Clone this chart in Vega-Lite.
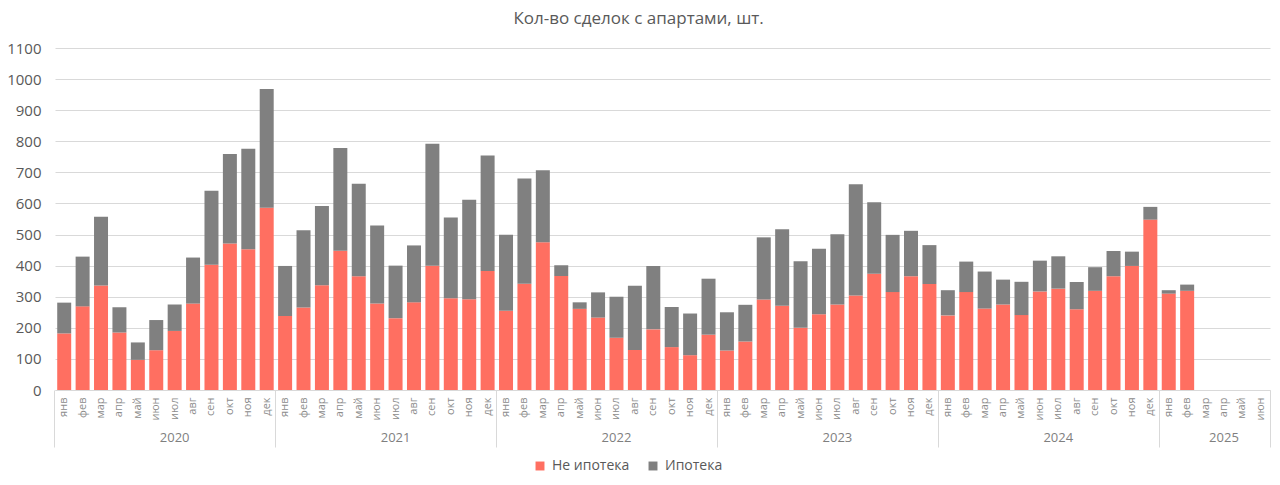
{
  "$schema": "https://vega.github.io/schema/vega-lite/v6.json",
  "width": 1215,
  "height": 342,
  "autosize": {"type": "none"},
  "padding": {"left": 55, "top": 48, "right": 10, "bottom": 95},
  "background": "white",
  "title": {
    "text": "Кол-во сделок с апартами, шт.",
    "anchor": "middle",
    "frame": "bounds",
    "font": "Open Sans",
    "fontSize": 17,
    "fontWeight": "normal",
    "color": "#595959",
    "offset": 13
  },
  "data": {
    "values": [
      {"key": "2020-01", "ni": 182, "ip": 99},
      {"key": "2020-02", "ni": 269, "ip": 160},
      {"key": "2020-03", "ni": 336, "ip": 221},
      {"key": "2020-04", "ni": 185, "ip": 81},
      {"key": "2020-05", "ni": 97, "ip": 56},
      {"key": "2020-06", "ni": 128, "ip": 97},
      {"key": "2020-07", "ni": 190, "ip": 85},
      {"key": "2020-08", "ni": 278, "ip": 148},
      {"key": "2020-09", "ni": 403, "ip": 238},
      {"key": "2020-10", "ni": 471, "ip": 288},
      {"key": "2020-11", "ni": 453, "ip": 323},
      {"key": "2020-12", "ni": 586, "ip": 382},
      {"key": "2021-01", "ni": 238, "ip": 161},
      {"key": "2021-02", "ni": 265, "ip": 249},
      {"key": "2021-03", "ni": 337, "ip": 255},
      {"key": "2021-04", "ni": 448, "ip": 330},
      {"key": "2021-05", "ni": 366, "ip": 297},
      {"key": "2021-06", "ni": 278, "ip": 251},
      {"key": "2021-07", "ni": 231, "ip": 169},
      {"key": "2021-08", "ni": 282, "ip": 183},
      {"key": "2021-09", "ni": 400, "ip": 392},
      {"key": "2021-10", "ni": 295, "ip": 260},
      {"key": "2021-11", "ni": 292, "ip": 320},
      {"key": "2021-12", "ni": 383, "ip": 371},
      {"key": "2022-01", "ni": 255, "ip": 244},
      {"key": "2022-02", "ni": 342, "ip": 338},
      {"key": "2022-03", "ni": 475, "ip": 232},
      {"key": "2022-04", "ni": 367, "ip": 34},
      {"key": "2022-05", "ni": 261, "ip": 21},
      {"key": "2022-06", "ni": 233, "ip": 81},
      {"key": "2022-07", "ni": 168, "ip": 132},
      {"key": "2022-08", "ni": 129, "ip": 206},
      {"key": "2022-09", "ni": 195, "ip": 204},
      {"key": "2022-10", "ni": 138, "ip": 129},
      {"key": "2022-11", "ni": 112, "ip": 134},
      {"key": "2022-12", "ni": 178, "ip": 180},
      {"key": "2023-01", "ni": 127, "ip": 123},
      {"key": "2023-02", "ni": 156, "ip": 118},
      {"key": "2023-03", "ni": 291, "ip": 200},
      {"key": "2023-04", "ni": 271, "ip": 246},
      {"key": "2023-05", "ni": 200, "ip": 214},
      {"key": "2023-06", "ni": 244, "ip": 210},
      {"key": "2023-07", "ni": 275, "ip": 226},
      {"key": "2023-08", "ni": 304, "ip": 358},
      {"key": "2023-09", "ni": 374, "ip": 230},
      {"key": "2023-10", "ni": 315, "ip": 184},
      {"key": "2023-11", "ni": 366, "ip": 146},
      {"key": "2023-12", "ni": 341, "ip": 125},
      {"key": "2024-01", "ni": 240, "ip": 81},
      {"key": "2024-02", "ni": 315, "ip": 98},
      {"key": "2024-03", "ni": 262, "ip": 119},
      {"key": "2024-04", "ni": 275, "ip": 80},
      {"key": "2024-05", "ni": 241, "ip": 107},
      {"key": "2024-06", "ni": 317, "ip": 99},
      {"key": "2024-07", "ni": 326, "ip": 104},
      {"key": "2024-08", "ni": 260, "ip": 87},
      {"key": "2024-09", "ni": 319, "ip": 76},
      {"key": "2024-10", "ni": 366, "ip": 81},
      {"key": "2024-11", "ni": 399, "ip": 46},
      {"key": "2024-12", "ni": 548, "ip": 41},
      {"key": "2025-01", "ni": 310, "ip": 11},
      {"key": "2025-02", "ni": 319, "ip": 20}
    ]
  },
  "transform": [
    {"fold": ["ni", "ip"], "as": ["series", "value"]},
    {"lookup": "series", "from": {"data": {"values": [{"series": "ni", "type": "Не ипотека"}, {"series": "ip", "type": "Ипотека"}]}, "key": "series", "fields": ["type"]}}
  ],
  "layer": [
    {
      "mark": {"type": "bar"},
      "encoding": {
        "x": {
          "field": "key",
          "type": "ordinal",
          "scale": {
            "domain": ["2020-01","2020-02","2020-03","2020-04","2020-05","2020-06","2020-07","2020-08","2020-09","2020-10","2020-11","2020-12",
                       "2021-01","2021-02","2021-03","2021-04","2021-05","2021-06","2021-07","2021-08","2021-09","2021-10","2021-11","2021-12",
                       "2022-01","2022-02","2022-03","2022-04","2022-05","2022-06","2022-07","2022-08","2022-09","2022-10","2022-11","2022-12",
                       "2023-01","2023-02","2023-03","2023-04","2023-05","2023-06","2023-07","2023-08","2023-09","2023-10","2023-11","2023-12",
                       "2024-01","2024-02","2024-03","2024-04","2024-05","2024-06","2024-07","2024-08","2024-09","2024-10","2024-11","2024-12",
                       "2025-01","2025-02","2025-03","2025-04","2025-05","2025-06"],
            "paddingInner": 0.24,
            "paddingOuter": 0.12
          },
          "axis": {
            "title": null,
            "orient": "bottom",
            "domain": true,
            "domainColor": "#d9d9d9",
            "domainWidth": 1,
            "ticks": false,
            "grid": false,
            "labelAngle": -90,
            "labelAlign": "right",
            "labelBaseline": "middle",
            "labelPadding": 7,
            "labelFont": "Open Sans",
            "labelFontSize": 11,
            "labelColor": "#8c8c8c",
            "labelOverlap": false,
            "labelExpr": "['янв','фев','мар','апр','май','июн','июл','авг','сен','окт','ноя','дек'][toNumber(slice(datum.value,5))-1]"
          }
        },
        "y": {
          "field": "value",
          "type": "quantitative",
          "stack": "zero",
          "scale": {"domain": [0, 1100], "nice": false},
          "axis": {
            "title": null,
            "values": [0,100,200,300,400,500,600,700,800,900,1000,1100],
            "format": "d",
            "domain": false,
            "ticks": false,
            "grid": true,
            "gridColor": "#d9d9d9",
            "gridWidth": 1,
            "labelPadding": 14,
            "labelFont": "Open Sans",
            "labelFontSize": 15,
            "labelColor": "#595959"
          }
        },
        "color": {
          "field": "type",
          "type": "nominal",
          "scale": {"domain": ["Не ипотека", "Ипотека"], "range": ["#ff6f61", "#808080"]},
          "legend": {
            "title": null,
            "orient": "none",
            "legendX": 478,
            "legendY": 411,
            "direction": "horizontal",
            "symbolType": "square",
            "symbolSize": 80,
            "symbolStrokeWidth": 0,
            "labelFont": "Open Sans",
            "labelFontSize": 14,
            "labelColor": "#595959",
            "labelOffset": 5,
            "columnPadding": 16
          }
        },
        "order": {"field": "series", "sort": "descending"}
      }
    },
    {
      "mark": {"type": "tick", "opacity": 0},
      "encoding": {
        "x": {
          "field": "key",
          "type": "ordinal",
          "axis": {
            "title": null,
            "orient": "bottom",
            "domain": false,
            "ticks": true,
            "bandPosition": -0.158,
            "tickSize": 57,
            "tickWidth": 1,
            "tickColor": {"condition": {"test": "slice(datum.value,5)=='01'", "value": "#d9d9d9"}, "value": "transparent"},
            "grid": false,
            "labelPadding": -16,
            "labelAngle": 0,
            "labelAlign": "center",
            "labelBaseline": "top",
            "labelFont": "Open Sans",
            "labelFontSize": 13,
            "labelColor": "#7f7f7f",
            "labelOverlap": false,
            "labelBound": false,
            "labelFlush": false,
            "labelExpr": "slice(datum.value,5)=='07' ? slice(datum.value,0,4) : (datum.value=='2025-04' ? '2025' : '')"
          }
        }
      }
    },
    {
      "mark": {"type": "tick", "opacity": 0},
      "encoding": {
        "x": {
          "field": "key",
          "type": "ordinal",
          "axis": {
            "title": null,
            "orient": "bottom",
            "domain": false,
            "ticks": true,
            "bandPosition": 1.158,
            "tickSize": 57,
            "tickWidth": 1,
            "tickColor": {"condition": {"test": "datum.value=='2025-06'", "value": "#d9d9d9"}, "value": "transparent"},
            "grid": false,
            "labels": false
          }
        }
      }
    }
  ],
  "resolve": {"axis": {"x": "independent"}},
  "config": {
    "view": {"stroke": null},
    "font": "Open Sans"
  }
}
